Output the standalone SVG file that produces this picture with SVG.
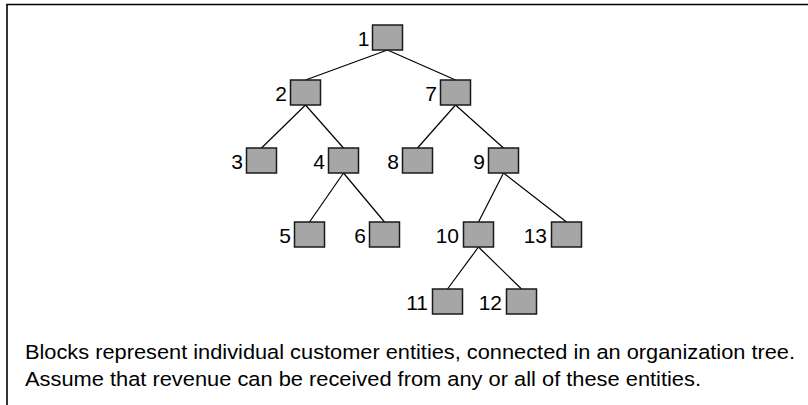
<svg xmlns="http://www.w3.org/2000/svg" width="808" height="405" viewBox="0 0 808 405">
<style>
.box{fill:#a6a6a6;stroke:#1a1a1a;stroke-width:1.5}
.lbl{font-family:"Liberation Sans",Arial,sans-serif;font-size:21px;fill:#000;text-anchor:end}
.cap{font-family:"Liberation Sans",Arial,sans-serif;font-size:20.5px;fill:#000}
.edge{stroke:#000;stroke-width:1.2;fill:none}
</style>
<rect width="808" height="405" fill="#fff"/>
<path d="M7,405 V4.5 H808" fill="none" stroke="#000" stroke-width="1.6"/>
<g id="connectors" class="edge">
<line x1="387.5" y1="50" x2="305.5" y2="80"/>
<line x1="387.5" y1="50" x2="455.5" y2="80"/>
<line x1="305.5" y1="105" x2="261.5" y2="148"/>
<line x1="305.5" y1="105" x2="343.5" y2="148"/>
<line x1="455.5" y1="105" x2="417.5" y2="148"/>
<line x1="455.5" y1="105" x2="503.5" y2="148"/>
<line x1="343.5" y1="173" x2="309.5" y2="222"/>
<line x1="343.5" y1="173" x2="384.5" y2="222"/>
<line x1="503.5" y1="173" x2="478.5" y2="222"/>
<line x1="503.5" y1="173" x2="566.5" y2="222"/>
<line x1="478.5" y1="247" x2="447.5" y2="289"/>
<line x1="478.5" y1="247" x2="521.5" y2="289"/>
</g>
<g id="n1"><rect class="box" x="372.5" y="25" width="30" height="25"/><text class="lbl" x="369.5" y="46">1</text></g>
<g id="n2"><rect class="box" x="290.5" y="80" width="30" height="25"/><text class="lbl" x="287" y="101">2</text></g>
<g id="n7"><rect class="box" x="440.5" y="80" width="30" height="25"/><text class="lbl" x="437" y="101">7</text></g>
<g id="n3"><rect class="box" x="246.5" y="148" width="30" height="25"/><text class="lbl" x="243" y="169">3</text></g>
<g id="n4"><rect class="box" x="328.5" y="148" width="30" height="25"/><text class="lbl" x="325" y="169">4</text></g>
<g id="n8"><rect class="box" x="402.5" y="148" width="30" height="25"/><text class="lbl" x="399" y="169">8</text></g>
<g id="n9"><rect class="box" x="488.5" y="148" width="30" height="25"/><text class="lbl" x="485" y="169">9</text></g>
<g id="n5"><rect class="box" x="294.5" y="222" width="30" height="25"/><text class="lbl" x="291" y="243">5</text></g>
<g id="n6"><rect class="box" x="369.5" y="222" width="30" height="25"/><text class="lbl" x="366" y="243">6</text></g>
<g id="n10"><rect class="box" x="463.5" y="222" width="30" height="25"/><text class="lbl" x="459" y="243">10</text></g>
<g id="n13"><rect class="box" x="551.5" y="222" width="30" height="25"/><text class="lbl" x="547" y="243">13</text></g>
<g id="n11"><rect class="box" x="432.5" y="289" width="30" height="25"/><text class="lbl" x="428" y="310">11</text></g>
<g id="n12"><rect class="box" x="506.5" y="289" width="30" height="25"/><text class="lbl" x="502" y="310">12</text></g>
<g id="caption">
<text class="cap" x="25" y="359" textLength="770" lengthAdjust="spacingAndGlyphs">Blocks represent individual customer entities, connected in an organization tree.</text>
<text class="cap" x="25" y="386" textLength="676" lengthAdjust="spacingAndGlyphs">Assume that revenue can be received from any or all of these entities.</text>
</g>
</svg>
